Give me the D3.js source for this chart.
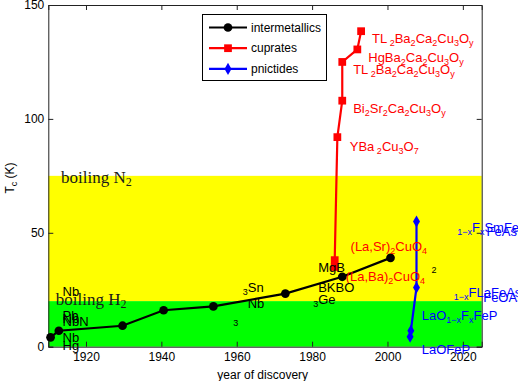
<!DOCTYPE html>
<html><head><meta charset="utf-8">
<script src="https://cdn.jsdelivr.net/npm/d3@7"></script>
<style>body{margin:0;background:#fff}svg{display:block}</style>
</head><body>
<script>
// ---- data ----
const intYears = [1910.6, 1912.8, 1929.7, 1940.6, 1953.8, 1972.9, 1988, 2000.8];
const intTc    = [4.1, 7.0, 9.2, 16, 17.7, 23.3, 30.7, 39];
const cupYears = [1986, 1986, 1986.7, 1988, 1988, 1992, 1993];
const cupTc    = [35, 38, 92, 108, 125, 130.5, 138.5];
const pnYears  = [2006, 2006.2, 2007.7, 2007.7];
const pnTc     = [4.4, 7.0, 26, 55];
const xTicks = [1920, 1940, 1960, 1980, 2000, 2020];
const yTicks = [0, 50, 100, 150];
const bands = [{name:"N", lo:20, hi:75, color:"#ffff00"}, {name:"H", lo:0, hi:20, color:"#00ff00"}];
const seriesNames = ["intermetallics", "cuprates", "pnictides"];
const seriesColors = ["#000000", "#ff0000", "#0000ff"];
// labels: parts [text, isSub], anchor in data coords
const labels = [
  {c:"#ff0000", yr:1995.9, t:135.1, p:[["TL",0],[" 2",1],["Ba",0],["2",1],["Ca",0],["2",1],["Cu",0],["3",1],["O",0],["y",1]]},
  {c:"#ff0000", yr:1994.9, t:127.1, p:[["HgBa",0],["2",1],["Ca",0],["2",1],["Cu",0],["3",1],["O",0],["y",1]]},
  {c:"#ff0000", yr:1990.9, t:121.8, p:[["TL",0],[" 2",1],["Ba",0],["2",1],["Ca",0],["2",1],["Cu",0],["3",1],["O",0],["y",1]]},
  {c:"#ff0000", yr:1990.9, t:104.7, p:[["Bi",0],["2",1],["Sr",0],["2",1],["Ca",0],["2",1],["Cu",0],["3",1],["O",0],["y",1]]},
  {c:"#ff0000", yr:1990.0, t:88.1, p:[["YBa",0],[" 2",1],["Cu",0],["3",1],["O",0],["7",1]]},
  {c:"#ff0000", yr:1990.2, t:44.2, p:[["(La,Sr)",0],["2",1],["CuO",0],["4",1]]},
  {c:"#ff0000", yr:1988.9, t:30.7, p:[["(La,Ba)",0],["2",1],["CuO",0],["4",1]]},
  {c:"#000000", yr:1913.8, t:0.4, p:[["Hg",0]]},
  {c:"#000000", yr:1913.8, t:4.1, p:[["Nb",0]]},
  {c:"#000000", yr:1913.8, t:13.5, p:[["Pb",0]]},
  {c:"#000000", yr:1913.8, t:12.4, p:[["Nb",0]]},
  {c:"#000000", yr:1913.8, t:11.3, p:[["NbN",0]]},
  {c:"#000000", yr:1913.8, t:24.1, p:[["Nb",0]]},
  {c:"#000000", yr:1961.6, t:23.9, p:[["3",1],["Sn",0]]},
  {c:"#000000", yr:1962.9, t:19.1, p:[["Nb",0]]},
  {c:"#000000", yr:1959.1, t:10.3, p:[["3",1]]},
  {c:"#000000", yr:1980.3, t:18.7, p:[["3",1],["Ge",0]]},
  {c:"#000000", yr:1981.6, t:26.1, p:[["BKBO",0]]},
  {c:"#000000", yr:1981.6, t:34.9, p:[["MgB",0]]},
  {c:"#000000", yr:2011.7, t:33.7, p:[["2",1]]},
  {c:"#0000ff", yr:2018.5, t:50.5, p:[["1\u2212x",1],["F",0],["x",1],["SmFeAs",0]]},
  {c:"#0000ff", yr:2026.3, t:50.5, p:[["FeAs",0]]},
  {c:"#0000ff", yr:2017.6, t:21.7, p:[["1\u2212x",1],["F",0],["LaFeAs",0]]},
  {c:"#0000ff", yr:2025.4, t:21.7, p:[["FeOAs",0]]},
  {c:"#0000ff", yr:2009.1, t:13.5, p:[["LaO",0],["1\u2212x",1],["F",0],["x",1],["FeP",0]]},
  {c:"#0000ff", yr:2009.1, t:-1.1, p:[["LaOFeP",0]]}
];

// ---- layout ----
const W = 518, H = 381;
const m = {l:48.3, r:518-481.7, t:5, b:381-346.7};
const svg = d3.select("body").append("svg").attr("width", W).attr("height", H);
const x = d3.scaleLinear().domain([1910, 2025]).range([m.l, W - m.r]);
const y = d3.scaleLinear().domain([0, 150]).range([H - m.b, m.t]);
const font = "'Liberation Sans', Arial, sans-serif";

const clip = svg.append("clipPath").attr("id","pc").append("rect")
  .attr("x", m.l).attr("y", m.t).attr("width", W-m.l-m.r).attr("height", H-m.t-m.b);

// bands
svg.append("g").selectAll("rect").data(bands).join("rect")
  .attr("x", m.l).attr("width", W - m.l - m.r)
  .attr("y", d => y(d.hi)).attr("height", d => y(d.lo) - y(d.hi))
  .attr("fill", d => d.color);

// band labels (serif)
const serif = "'DejaVu Serif', 'Liberation Serif', serif";
function bandLabel(xx, yy, sub){
  const t = svg.append("text").attr("x", xx).attr("y", yy)
    .attr("font-family", "'Liberation Serif', serif").attr("font-size", 17).attr("fill", "#1a1a1a");
  t.append("tspan").text("boiling ");
  t.append("tspan").text(sub);
  t.append("tspan").attr("font-size", 12).attr("dy", 3).text("2");
}
bandLabel(x(1913.4), y(71.8), "N");
bandLabel(x(1912), y(18.1), "H");

// axes
const gx = svg.append("g").attr("transform", `translate(0,${H - m.b})`)
  .call(d3.axisBottom(x).tickValues(xTicks).tickSize(-5).tickPadding(6).tickFormat(d3.format("d")));
const gxt = svg.append("g").attr("transform", `translate(0,${m.t})`)
  .call(d3.axisTop(x).tickValues(xTicks).tickSize(-5).tickFormat(""));
const gy = svg.append("g").attr("transform", `translate(${m.l},0)`)
  .call(d3.axisLeft(y).tickValues(yTicks).tickSize(-5).tickPadding(4));
const gyr = svg.append("g").attr("transform", `translate(${W - m.r},0)`)
  .call(d3.axisRight(y).tickValues(yTicks).tickSize(-5).tickFormat(""));
[gx, gxt, gy, gyr].forEach(g => {
  g.selectAll("path").attr("stroke", "#222").attr("stroke-width", 1);
  g.selectAll("line").attr("stroke", "#222");
  g.selectAll("text").attr("font-family", font).attr("font-size", 12).attr("fill", "#000");
});

// axis titles
svg.append("text").attr("x", 262.7).attr("y", 378.5).attr("text-anchor", "middle")
  .attr("font-family", font).attr("font-size", 12).text("year of discovery");
const yl = svg.append("text").attr("transform", "translate(14,178) rotate(-90)")
  .attr("text-anchor", "middle").attr("font-family", font).attr("font-size", 12);
yl.append("tspan").text("T");
yl.append("tspan").attr("font-size", 9).attr("dy", 3).text("c");
yl.append("tspan").attr("dy", -3).text(" (K)");

// series
const line = d3.line().x(d => x(d[0])).y(d => y(d[1]));
const series = [
  d3.zip(intYears, intTc), d3.zip(cupYears, cupTc), d3.zip(pnYears, pnTc)
];
const symbols = [d3.symbolCircle, d3.symbolSquare, d3.symbolDiamond];
const symSizes = [60, 60, 42];
const pg = svg.append("g").attr("clip-path", "url(#pc)");
series.forEach((s, i) => {
  pg.append("path").datum(s).attr("d", line).attr("fill", "none")
    .attr("stroke", seriesColors[i]).attr("stroke-width", 2.2);
});
series.forEach((s, i) => {
  svg.append("g").selectAll("path").data(s).join("path")
    .attr("transform", d => `translate(${x(d[0])},${y(d[1])})`)
    .attr("d", d3.symbol().type(symbols[i]).size(symSizes[i]))
    .attr("fill", seriesColors[i]);
});

// labels
labels.forEach(L => {
  const t = svg.append("text").attr("x", x(L.yr)).attr("y", y(L.t)).attr("dy", "0.35em")
    .attr("font-family", font).attr("font-size", 13).attr("fill", L.c);
  let sub = false;
  L.p.forEach(([txt, s]) => {
    const ts = t.append("tspan").text(txt);
    if (s) { ts.attr("font-size", 9); if (!sub) ts.attr("dy", 3); sub = true; }
    else { if (sub) ts.attr("dy", -3); sub = false; }
  });
});

// legend
const lg = svg.append("g");
lg.append("rect").attr("x", 202.5).attr("y", 14.5).attr("width", 124).attr("height", 66)
  .attr("fill", "#fff").attr("stroke", "#000").attr("stroke-width", 1);
seriesNames.forEach((n, i) => {
  const yy = 27.5 + i * 20.7;
  lg.append("line").attr("x1", 209).attr("x2", 247).attr("y1", yy).attr("y2", yy)
    .attr("stroke", seriesColors[i]).attr("stroke-width", 2.2);
  lg.append("path").attr("transform", `translate(228,${yy})`)
    .attr("d", d3.symbol().type(symbols[i]).size(symSizes[i])).attr("fill", seriesColors[i]);
  lg.append("text").attr("x", 251).attr("y", yy).attr("dy", "0.35em")
    .attr("font-family", font).attr("font-size", 12).text(n);
});
</script>
</body></html>
